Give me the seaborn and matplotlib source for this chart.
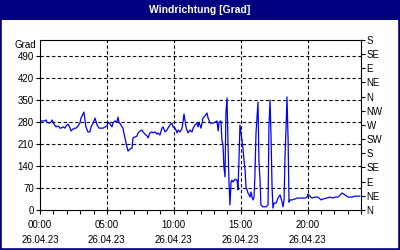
import matplotlib
matplotlib.use("Agg")
import matplotlib.pyplot as plt
import seaborn as sns
import numpy as np
from matplotlib.patches import Rectangle
from matplotlib.ticker import MultipleLocator

# ---- data (minutes since 00:00 on 26.04.23, wind direction in degrees) ----
minutes = [
    0, 4, 22, 27, 31, 40, 49, 54, 63, 72, 81, 90, 94, 103, 112, 117, 126, 135, 139, 148,
    157, 162, 170, 179, 184, 197, 202, 206, 215, 224, 229, 238, 247, 256, 265, 274, 283, 292, 301,
    305, 314, 323, 327, 336, 345, 350, 354, 363, 368, 372, 381, 390, 395, 404, 413, 417, 426,
    435, 440, 449, 458, 462, 471, 480, 485, 493, 502, 507, 516, 525, 529, 538, 547, 552, 561, 570,
    574, 583, 592, 597, 606, 615, 619, 628, 637, 641, 646, 655, 659, 664, 673, 682, 687, 695,
    704, 709, 713, 722, 727, 731, 740, 749, 754, 763, 772, 776, 785, 794, 799, 803, 812,
    816, 821, 825, 830, 834, 839, 843, 848, 852, 857, 861, 866, 875, 884, 888, 893, 897, 906,
    911, 915, 920, 924, 929, 933, 938, 942, 947, 951, 956, 960, 964, 969, 978, 982, 987, 991,
    1000, 1014, 1023, 1027, 1032, 1036, 1041, 1045, 1050, 1059, 1068, 1077, 1086, 1090, 1095,
    1099, 1104, 1108, 1113, 1117, 1122, 1130, 1144, 1153, 1166, 1189, 1198, 1202, 1211, 1220,
    1234, 1247, 1261, 1270, 1287, 1301, 1314, 1323, 1337, 1355, 1368, 1382, 1400, 1413, 1427, 1436,
]
direction = [
    283, 283, 283, 286, 279, 276, 279, 286, 273, 264, 267, 260, 260, 264, 260, 267, 273, 260, 251, 257,
    260, 260, 267, 276, 292, 311, 286, 264, 248, 248, 264, 276, 292, 270, 260, 260, 260, 264, 267,
    279, 273, 264, 276, 283, 279, 295, 279, 270, 264, 260, 229, 200, 187, 194, 197, 229, 232,
    235, 245, 251, 254, 248, 241, 235, 229, 245, 248, 245, 248, 241, 245, 238, 260, 264, 248, 254,
    260, 270, 276, 264, 260, 245, 254, 248, 260, 276, 305, 264, 254, 245, 254, 248, 260, 270,
    276, 264, 279, 260, 276, 292, 299, 308, 292, 276, 276, 276, 279, 283, 251, 279, 283,
    222, 206, 137, 105, 308, 356, 222, 86, 16, 89, 95, 89, 98, 95, 64, 168, 270, 222,
    191, 159, 127, 73, 64, 54, 48, 41, 57, 41, 32, 41, 105, 245, 343, 159, 95, 16,
    10, 10, 16, 264, 349, 245, 73, 6, 22, 22, 38, 48, 25, 10, 32,
    168, 264, 359, 222, 25, 32, 32, 35, 38, 38, 38, 41, 51, 44, 38,
    41, 41, 32, 35, 38, 41, 38, 41, 41, 54, 48, 41, 41, 44, 44, 44,
]
hour_ticks = [0, 5, 10, 15, 20]
hour_labels = ["00:00\n26.04.23", "05:00\n26.04.23", "10:00\n26.04.23",
               "15:00\n26.04.23", "20:00\n26.04.23"]
deg_ticks = [0, 70, 140, 210, 280, 350, 420, 490]
compass_ticks = list(range(0, 541, 45))
compass_labels = ["N", "NE", "E", "SE", "S", "SW", "W", "NW", "N", "NE", "E", "SE", "S"]

hours = np.array(minutes) / 60.0

sns.set_style("white")
plt.rcParams["font.family"] = ["Liberation Sans", "DejaVu Sans"]

fig = plt.figure(figsize=(4, 2.5), dpi=100)
fig.patch.set_facecolor("white")
ax = fig.add_axes([40 / 400, 40 / 250, 321 / 400, 170 / 250])

sns.lineplot(x=hours, y=direction, ax=ax, color="#0000FF", linewidth=0.9)

ax.set_xlim(0, 24)
ax.set_ylim(0, 540)
ax.set_xticks(hour_ticks)
ax.set_xticklabels(hour_labels)
ax.xaxis.set_minor_locator(MultipleLocator(1))
ax.set_yticks(deg_ticks)
ax.set_yticklabels([str(v) for v in deg_ticks])
ax.set_xlabel("")
ax.set_ylabel("")

for t in ax.get_xticklabels():
    t.set_linespacing(1.65)

ax.tick_params(axis="x", which="both", direction="out", length=3, width=0.8,
               colors="black", labelsize=7, pad=4, bottom=True)
ax.tick_params(axis="y", which="both", direction="out", length=3, width=0.8,
               colors="black", labelsize=7, pad=1.5, left=True)

ax.grid(False)
for v in hour_ticks[1:]:
    ax.axvline(v, color="black", lw=0.8, ls=(0, (3, 2.2)), zorder=0)
for v in deg_ticks[1:]:
    ax.axhline(v, color="black", lw=0.8, ls=(0, (3, 2.2)), zorder=0)

for s in ax.spines.values():
    s.set_color("black")
    s.set_linewidth(0.8)

ax.text(-0.012, 0.97, "Grad", transform=ax.transAxes, ha="right", va="center",
        fontsize=7, color="black")

ax2 = ax.twinx()
ax2.set_ylim(0, 540)
ax2.set_yticks(compass_ticks)
ax2.set_yticklabels(compass_labels)
ax2.tick_params(axis="y", direction="out", length=3, width=0.8, colors="black",
                labelsize=7, pad=1, right=True)
for s in ax2.spines.values():
    s.set_visible(False)

# title bar and frame
fig.patches.append(Rectangle((0, 1 - 20 / 250), 1, 20 / 250, transform=fig.transFigure,
                             facecolor="#000080", edgecolor="none", zorder=0))
fig.patches.append(Rectangle((0, 0), 1, 1, transform=fig.transFigure,
                             facecolor="none", edgecolor="#000080", linewidth=2.6, zorder=1))
fig.text(0.5, 1 - 10 / 250, "Windrichtung [Grad]", ha="center", va="center",
         color="white", fontsize=7.5, fontweight="bold")

fig.savefig("out.png", dpi=100)
